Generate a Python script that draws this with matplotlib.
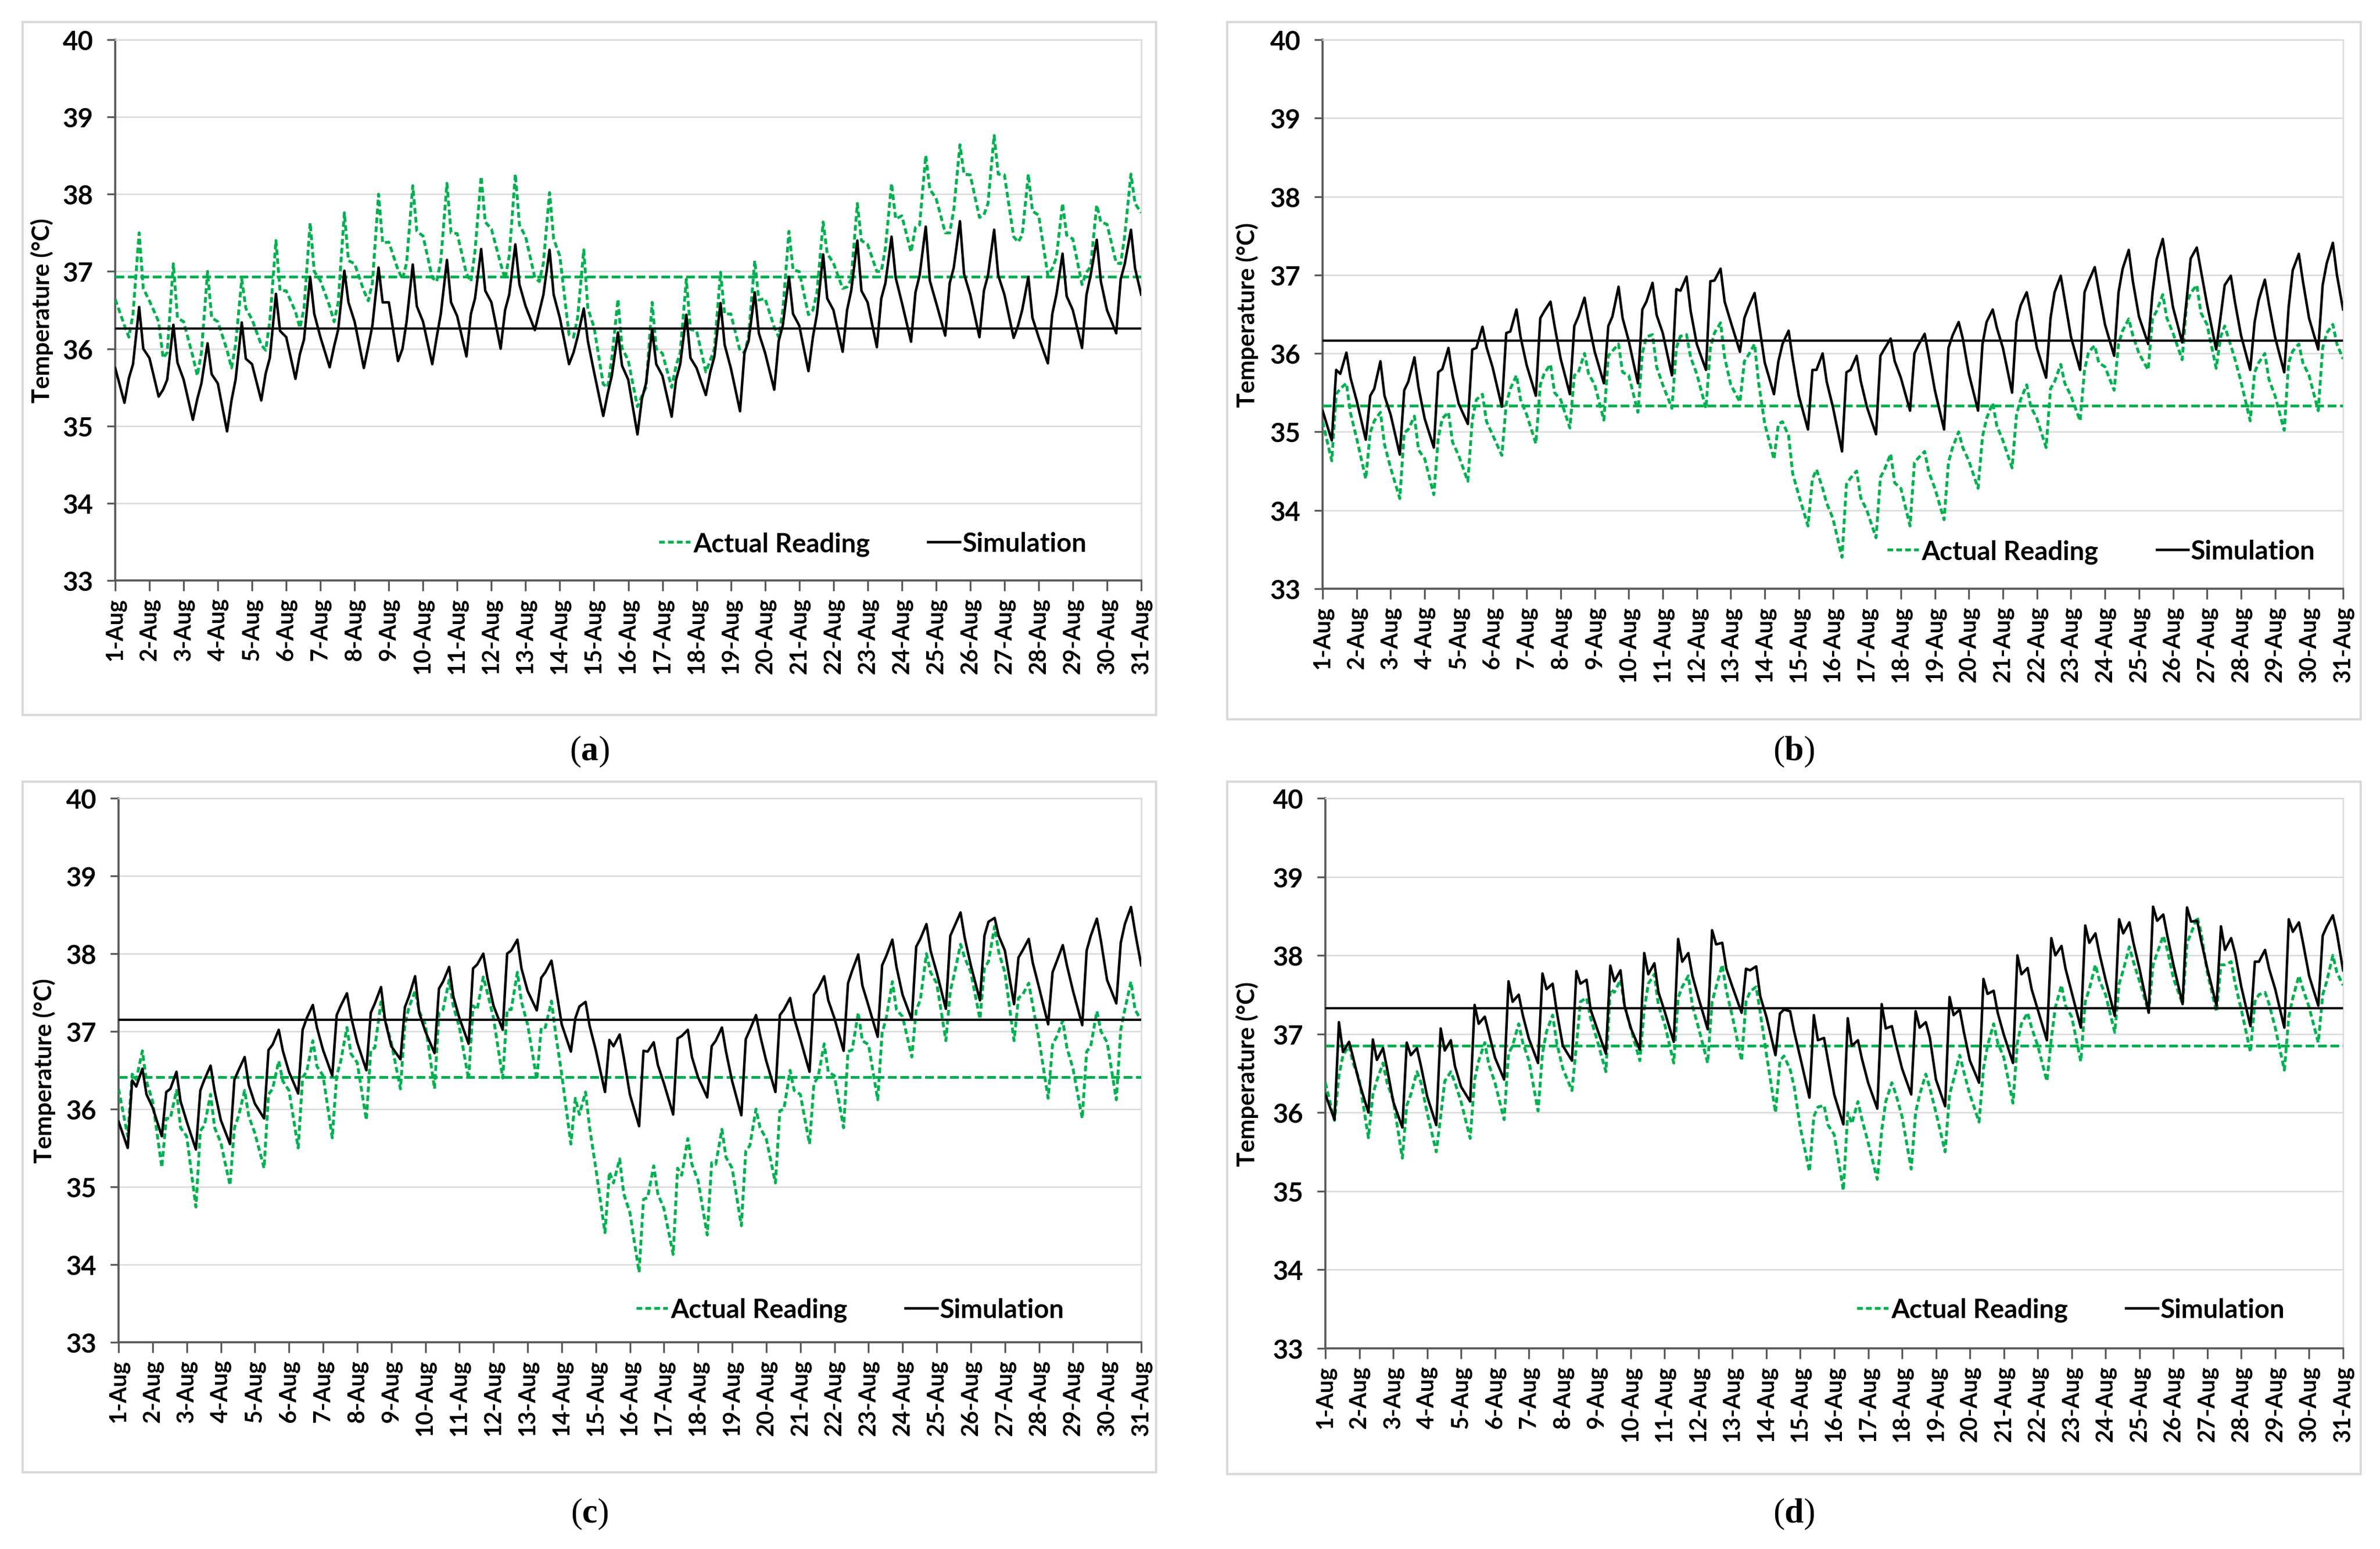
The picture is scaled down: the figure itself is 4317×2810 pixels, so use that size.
import matplotlib.pyplot as plt
from matplotlib.patches import Rectangle

plt.rcParams['font.family'] = ['Lato', 'DejaVu Sans']
plt.rcParams['mathtext.fontset'] = 'custom'
plt.rcParams['mathtext.rm'] = 'Liberation Serif'
plt.rcParams['mathtext.bf'] = 'Liberation Serif:bold'

# position of each reading inside a day (fraction of the day)
day_frac = [0.0, 0.27, 0.4, 0.52, 0.7, 0.82]
days = list(range(1, 32))
day_labels = [f"{d}-Aug" for d in days]

# ---- (a) ----
sim_a = [
    [35.75, 35.30, 35.62, 35.80, 36.54, 36.00], [35.88, 35.38, 35.47, 35.60, 36.31, 35.82],
    [35.60, 35.08, 35.35, 35.55, 36.07, 35.67], [35.55, 34.93, 35.33, 35.60, 36.34, 35.87],
    [35.80, 35.33, 35.68, 35.88, 36.71, 36.23], [36.15, 35.61, 35.93, 36.12, 36.93, 36.45],
    [36.15, 35.76, 36.03, 36.25, 37.01, 36.60], [36.35, 35.75, 36.03, 36.30, 37.05, 36.60],
    [36.60, 35.84, 36.00, 36.35, 37.09, 36.55], [36.35, 35.80, 36.15, 36.45, 37.15, 36.60],
    [36.42, 35.90, 36.45, 36.65, 37.29, 36.75], [36.60, 36.00, 36.50, 36.70, 37.35, 36.83],
    [36.55, 36.24, 36.48, 36.70, 37.28, 36.70], [36.40, 35.80, 35.95, 36.15, 36.52, 36.10],
    [35.70, 35.13, 35.42, 35.65, 36.21, 35.78], [35.60, 34.89, 35.35, 35.55, 36.25, 35.80],
    [35.65, 35.12, 35.60, 35.80, 36.44, 35.88], [35.75, 35.40, 35.70, 35.90, 36.59, 36.05],
    [35.75, 35.19, 35.95, 36.10, 36.73, 36.20], [35.95, 35.47, 36.10, 36.30, 36.93, 36.45],
    [36.30, 35.71, 36.15, 36.45, 37.22, 36.65], [36.50, 35.96, 36.50, 36.75, 37.40, 36.75],
    [36.60, 36.02, 36.65, 36.85, 37.45, 36.92], [36.60, 36.09, 36.73, 36.95, 37.58, 36.88],
    [36.60, 36.17, 36.85, 37.05, 37.65, 36.97], [36.70, 36.15, 36.75, 36.95, 37.54, 36.95],
    [36.70, 36.14, 36.30, 36.50, 36.93, 36.40], [36.15, 35.81, 36.45, 36.70, 37.23, 36.68],
    [36.50, 36.01, 36.70, 36.95, 37.41, 36.87], [36.50, 36.20, 36.90, 37.10, 37.54, 37.04],
]
sim_a_end = 36.70
act_a = [
    [36.64, 36.30, 36.15, 36.45, 37.50, 36.78], [36.62, 36.35, 35.88, 35.95, 37.10, 36.40],
    [36.35, 35.90, 35.65, 35.95, 37.00, 36.40], [36.35, 35.98, 35.75, 36.05, 36.90, 36.52],
    [36.38, 36.05, 35.98, 36.35, 37.40, 36.75], [36.75, 36.48, 36.27, 36.52, 37.63, 37.00],
    [36.88, 36.55, 36.35, 36.60, 37.76, 37.14], [37.10, 36.75, 36.62, 36.85, 38.00, 37.37],
    [37.38, 37.02, 36.90, 37.11, 38.11, 37.52], [37.46, 36.92, 36.87, 37.14, 38.14, 37.50],
    [37.49, 36.97, 36.87, 37.26, 38.23, 37.64], [37.55, 37.10, 36.90, 37.20, 38.26, 37.60],
    [37.45, 36.92, 36.87, 37.11, 38.02, 37.42], [37.20, 36.18, 36.15, 36.40, 37.28, 36.52],
    [36.28, 35.54, 35.50, 35.87, 36.64, 36.01], [35.85, 35.25, 35.39, 35.50, 36.60, 36.00],
    [35.94, 35.50, 35.78, 35.95, 36.90, 36.25], [36.23, 35.70, 35.85, 36.00, 36.99, 36.45],
    [36.45, 35.97, 35.95, 36.16, 37.14, 36.63], [36.65, 36.28, 36.15, 36.49, 37.52, 37.02],
    [37.00, 36.44, 36.50, 36.73, 37.64, 37.23], [37.11, 36.78, 36.80, 36.90, 37.88, 37.40],
    [37.35, 37.00, 37.00, 37.30, 38.14, 37.68], [37.72, 37.25, 37.57, 37.60, 38.50, 38.06],
    [37.95, 37.50, 37.50, 37.80, 38.64, 38.26], [38.25, 37.70, 37.73, 37.88, 38.76, 38.26],
    [38.25, 37.45, 37.38, 37.47, 38.26, 37.78], [37.73, 36.95, 37.04, 37.18, 37.88, 37.47],
    [37.42, 36.83, 36.99, 37.06, 37.86, 37.64], [37.61, 37.11, 37.10, 37.47, 38.26, 37.88],
]
act_a_end = 37.76
mean_sim_a, mean_act_a = 36.26, 36.93

# ---- (b) ----
sim_b = [
    [35.27, 34.89, 35.79, 35.74, 36.01, 35.69], [35.40, 34.90, 35.46, 35.55, 35.90, 35.46],
    [35.22, 34.71, 35.53, 35.64, 35.95, 35.57], [35.17, 34.80, 35.76, 35.80, 36.07, 35.72],
    [35.36, 35.10, 36.05, 36.07, 36.34, 36.08], [35.82, 35.32, 36.26, 36.28, 36.56, 36.21],
    [35.85, 35.46, 36.45, 36.54, 36.66, 36.35], [35.93, 35.48, 36.35, 36.47, 36.71, 36.40],
    [36.02, 35.62, 36.35, 36.47, 36.85, 36.45], [36.16, 35.62, 36.56, 36.66, 36.90, 36.49],
    [36.26, 35.72, 36.82, 36.80, 36.98, 36.54], [36.12, 35.79, 36.92, 36.93, 37.08, 36.66],
    [36.40, 36.02, 36.45, 36.59, 36.77, 36.40], [35.88, 35.48, 35.90, 36.12, 36.29, 35.93],
    [35.46, 35.03, 35.79, 35.79, 36.00, 35.64], [35.32, 34.75, 35.76, 35.79, 35.97, 35.65],
    [35.32, 34.97, 35.97, 36.06, 36.19, 35.90], [35.69, 35.27, 36.00, 36.11, 36.25, 35.97],
    [35.53, 35.03, 36.07, 36.23, 36.40, 36.19], [35.74, 35.27, 36.12, 36.40, 36.56, 36.33],
    [36.07, 35.50, 36.40, 36.61, 36.78, 36.52], [36.07, 35.69, 36.45, 36.78, 36.99, 36.68],
    [36.21, 35.79, 36.78, 36.92, 37.10, 36.80], [36.37, 35.97, 36.78, 37.08, 37.32, 36.92],
    [36.47, 36.12, 36.78, 37.20, 37.46, 37.10], [36.59, 36.14, 36.68, 37.21, 37.35, 37.06],
    [36.63, 36.05, 36.47, 36.87, 36.99, 36.66], [36.23, 35.79, 36.40, 36.68, 36.94, 36.63],
    [36.21, 35.76, 36.59, 37.06, 37.27, 36.92], [36.45, 36.05, 36.87, 37.15, 37.41, 37.00],
]
sim_b_end = 36.56
act_b = [
    [35.13, 34.63, 35.48, 35.55, 35.62, 35.24], [34.92, 34.40, 34.99, 35.14, 35.25, 34.84],
    [34.54, 34.15, 34.99, 35.03, 35.20, 34.77], [34.66, 34.20, 34.92, 35.17, 35.25, 34.87],
    [34.70, 34.37, 35.15, 35.41, 35.48, 35.13], [34.96, 34.70, 35.36, 35.55, 35.72, 35.41],
    [35.22, 34.85, 35.60, 35.75, 35.86, 35.50], [35.41, 35.05, 35.72, 35.76, 36.00, 35.74],
    [35.60, 35.15, 35.97, 36.03, 36.12, 35.76], [35.72, 35.25, 36.00, 36.21, 36.24, 35.83],
    [35.60, 35.30, 36.07, 36.22, 36.24, 35.95], [35.74, 35.30, 36.07, 36.26, 36.39, 35.95],
    [35.60, 35.38, 35.90, 35.98, 36.12, 35.62], [35.10, 34.65, 35.10, 35.13, 34.95, 34.47],
    [34.19, 33.80, 34.40, 34.52, 34.28, 34.09], [33.90, 33.40, 34.33, 34.41, 34.50, 34.16],
    [34.00, 33.65, 34.42, 34.52, 34.72, 34.35], [34.28, 33.80, 34.61, 34.67, 34.75, 34.49],
    [34.28, 33.88, 34.61, 34.80, 35.00, 34.80], [34.63, 34.28, 34.94, 35.17, 35.37, 35.08],
    [34.89, 34.54, 35.22, 35.41, 35.60, 35.32], [35.17, 34.80, 35.55, 35.64, 35.86, 35.62],
    [35.46, 35.14, 35.79, 36.02, 36.10, 35.88], [35.83, 35.53, 36.12, 36.29, 36.44, 36.23],
    [36.00, 35.79, 36.45, 36.54, 36.75, 36.45], [36.26, 35.92, 36.63, 36.77, 36.87, 36.52],
    [36.37, 35.81, 36.21, 36.35, 36.10, 35.93], [35.64, 35.14, 35.76, 35.88, 36.00, 35.67],
    [35.46, 35.02, 35.88, 36.03, 36.12, 35.88], [35.72, 35.27, 36.07, 36.26, 36.37, 36.12],
]
act_b_end = 35.93
mean_sim_b, mean_act_b = 36.16, 35.33

# ---- (c) ----
sim_c = [
    [35.84, 35.50, 36.37, 36.29, 36.52, 36.19], [36.02, 35.65, 36.22, 36.26, 36.48, 36.10],
    [35.84, 35.48, 36.24, 36.38, 36.56, 36.23], [35.86, 35.55, 36.38, 36.50, 36.67, 36.31],
    [36.07, 35.88, 36.76, 36.83, 37.02, 36.75], [36.48, 36.20, 37.02, 37.17, 37.34, 37.05],
    [36.76, 36.43, 37.21, 37.33, 37.49, 37.19], [36.86, 36.50, 37.24, 37.36, 37.57, 37.14],
    [36.81, 36.64, 37.31, 37.45, 37.71, 37.24], [37.00, 36.72, 37.55, 37.64, 37.83, 37.45],
    [37.17, 36.84, 37.81, 37.86, 38.00, 37.69], [37.33, 37.02, 38.00, 38.04, 38.18, 37.81],
    [37.52, 37.27, 37.69, 37.76, 37.91, 37.59], [37.09, 36.74, 37.17, 37.32, 37.38, 37.07],
    [36.76, 36.22, 36.89, 36.81, 36.96, 36.67], [36.19, 35.78, 36.75, 36.74, 36.86, 36.57],
    [36.33, 35.93, 36.91, 36.94, 37.02, 36.67], [36.41, 36.15, 36.81, 36.88, 37.05, 36.74],
    [36.36, 35.92, 36.90, 37.02, 37.21, 36.95], [36.62, 36.22, 37.21, 37.28, 37.43, 37.17],
    [36.90, 36.48, 37.47, 37.55, 37.71, 37.40], [37.17, 36.75, 37.62, 37.78, 37.99, 37.59],
    [37.33, 36.93, 37.85, 37.97, 38.18, 37.83], [37.47, 37.15, 38.09, 38.19, 38.38, 38.04],
    [37.76, 37.29, 38.23, 38.35, 38.53, 38.21], [37.85, 37.40, 38.23, 38.41, 38.46, 38.23],
    [38.04, 37.35, 37.95, 38.04, 38.19, 37.88], [37.57, 37.09, 37.76, 37.90, 38.11, 37.85],
    [37.52, 37.08, 38.04, 38.23, 38.45, 38.16], [37.66, 37.36, 38.14, 38.38, 38.60, 38.28],
]
sim_c_end = 37.85
act_c = [
    [36.26, 35.65, 36.45, 36.38, 36.75, 36.36], [36.10, 35.25, 35.88, 35.88, 36.24, 35.76],
    [35.65, 34.74, 35.72, 35.79, 36.19, 35.76], [35.57, 35.02, 35.76, 35.91, 36.24, 35.91],
    [35.69, 35.24, 36.19, 36.26, 36.62, 36.36], [36.24, 35.50, 36.41, 36.48, 36.88, 36.55],
    [36.43, 35.63, 36.43, 36.62, 37.05, 36.71], [36.60, 35.86, 36.76, 36.79, 37.38, 37.14],
    [36.86, 36.26, 37.09, 37.31, 37.52, 37.26], [37.09, 36.26, 37.24, 37.28, 37.66, 37.33],
    [37.05, 36.38, 37.33, 37.28, 37.70, 37.50], [37.17, 36.40, 37.28, 37.28, 37.76, 37.38],
    [37.09, 36.38, 37.05, 37.05, 37.39, 36.98], [36.45, 35.55, 36.14, 35.93, 36.22, 35.76],
    [35.24, 34.41, 35.19, 35.05, 35.36, 34.91], [34.67, 33.90, 34.84, 34.86, 35.27, 34.91],
    [34.72, 34.13, 35.24, 35.15, 35.62, 35.29], [35.08, 34.38, 35.31, 35.29, 35.74, 35.38],
    [35.24, 34.50, 35.46, 35.53, 36.00, 35.76], [35.62, 35.05, 35.98, 36.00, 36.50, 36.24],
    [36.19, 35.55, 36.33, 36.41, 36.84, 36.48], [36.43, 35.76, 36.74, 36.76, 37.24, 36.88],
    [36.83, 36.12, 36.98, 37.17, 37.64, 37.28], [37.19, 36.67, 37.28, 37.40, 38.00, 37.76],
    [37.62, 36.88, 37.52, 37.74, 38.12, 37.95], [37.76, 37.16, 37.81, 37.90, 38.35, 38.02],
    [37.76, 36.88, 37.43, 37.47, 37.62, 37.33], [36.90, 36.14, 36.83, 36.93, 37.14, 36.79],
    [36.52, 35.88, 36.74, 36.81, 37.26, 37.00], [36.86, 36.12, 37.02, 37.28, 37.64, 37.28],
]
act_c_end = 37.14
mean_sim_c, mean_act_c = 37.15, 36.41

# ---- (d) ----
sim_d = [
    [36.23, 35.91, 37.15, 36.77, 36.90, 36.70], [36.38, 36.00, 36.93, 36.67, 36.82, 36.56],
    [36.14, 35.81, 36.89, 36.73, 36.82, 36.59], [36.21, 35.84, 37.07, 36.79, 36.92, 36.59],
    [36.33, 36.14, 37.37, 37.13, 37.22, 37.01], [36.70, 36.42, 37.67, 37.41, 37.50, 37.24],
    [36.94, 36.63, 37.77, 37.57, 37.64, 37.29], [36.85, 36.66, 37.80, 37.64, 37.69, 37.31],
    [37.08, 36.75, 37.87, 37.67, 37.81, 37.36], [37.08, 36.80, 38.03, 37.76, 37.90, 37.53],
    [37.29, 36.90, 38.21, 37.92, 38.03, 37.74], [37.46, 37.06, 38.32, 38.14, 38.16, 37.83],
    [37.60, 37.27, 37.83, 37.81, 37.86, 37.48], [37.22, 36.73, 37.26, 37.31, 37.29, 37.03],
    [36.70, 36.19, 37.24, 36.92, 36.95, 36.66], [36.23, 35.85, 37.20, 36.85, 36.92, 36.68],
    [36.38, 36.05, 37.38, 37.07, 37.10, 36.87], [36.56, 36.23, 37.29, 37.08, 37.15, 36.95],
    [36.42, 36.08, 37.47, 37.24, 37.31, 37.03], [36.66, 36.38, 37.70, 37.51, 37.55, 37.27],
    [36.99, 36.63, 38.00, 37.76, 37.84, 37.57], [37.31, 36.92, 38.22, 38.00, 38.12, 37.83],
    [37.53, 37.08, 38.38, 38.16, 38.28, 38.02], [37.69, 37.23, 38.46, 38.28, 38.42, 38.16],
    [37.83, 37.27, 38.62, 38.44, 38.52, 38.25], [37.88, 37.38, 38.61, 38.43, 38.44, 38.18],
    [37.83, 37.36, 38.37, 38.07, 38.22, 38.02], [37.60, 37.10, 37.92, 37.92, 38.07, 37.83],
    [37.57, 37.08, 38.46, 38.30, 38.42, 38.16], [37.74, 37.36, 38.25, 38.37, 38.51, 38.28],
]
sim_d_end = 37.81
act_d = [
    [36.38, 35.90, 36.47, 36.73, 36.85, 36.63], [36.42, 35.68, 36.23, 36.41, 36.63, 36.38],
    [36.16, 35.42, 36.09, 36.23, 36.52, 36.38], [36.00, 35.50, 35.95, 36.40, 36.52, 36.38],
    [36.14, 35.67, 36.42, 36.66, 36.89, 36.61], [36.38, 35.91, 36.75, 36.85, 37.13, 36.89],
    [36.66, 36.02, 36.75, 37.03, 37.24, 36.89], [36.56, 36.28, 36.85, 37.41, 37.46, 37.20],
    [36.94, 36.52, 37.57, 37.53, 37.69, 37.36], [37.08, 36.66, 37.31, 37.64, 37.76, 37.36],
    [37.13, 36.63, 37.46, 37.60, 37.74, 37.36], [37.08, 36.63, 37.41, 37.60, 37.88, 37.55],
    [37.22, 36.66, 37.41, 37.54, 37.60, 37.27], [36.75, 36.00, 36.66, 36.72, 36.55, 36.33],
    [35.81, 35.25, 35.95, 36.07, 36.09, 35.84], [35.72, 35.01, 36.00, 35.86, 36.14, 35.91],
    [35.62, 35.15, 35.77, 36.14, 36.38, 36.23], [35.95, 35.28, 36.00, 36.23, 36.49, 36.31],
    [36.00, 35.50, 36.23, 36.42, 36.73, 36.52], [36.23, 35.88, 36.56, 36.85, 37.13, 36.89],
    [36.70, 36.12, 36.89, 37.13, 37.27, 37.08], [36.85, 36.40, 36.94, 37.34, 37.62, 37.36],
    [37.22, 36.65, 37.41, 37.57, 37.88, 37.68], [37.50, 37.02, 37.64, 37.81, 38.11, 37.92],
    [37.67, 37.28, 37.88, 38.03, 38.25, 38.07], [37.71, 37.38, 38.16, 38.28, 38.49, 38.28],
    [37.78, 37.28, 37.88, 37.88, 37.92, 37.64], [37.31, 36.77, 37.41, 37.50, 37.53, 37.38],
    [37.08, 36.54, 37.22, 37.46, 37.74, 37.57], [37.34, 36.89, 37.50, 37.67, 38.00, 37.78],
]
act_d_end = 37.62
mean_sim_d, mean_act_d = 37.33, 36.85

GREEN = '#00B050'
W, H = 4317, 2811

# layout in figure pixels: plot area (left, top, right, bottom), panel frame, label centre, legend anchor
panels = [
    (sim_a, sim_a_end, act_a, act_a_end, mean_sim_a, mean_act_a, 'a',
     (209, 73, 2070, 1054), (41, 41, 2097, 1298), (1069, 1364), (0.970, 0.068), 112),
    (sim_b, sim_b_end, act_b, act_b_end, mean_sim_b, mean_act_b, 'b',
     (2399, 73, 4250, 1069), (2226, 41, 4282, 1306), (3254, 1364), (0.996, 0.068), 116),
    (sim_c, sim_c_end, act_c, act_c_end, mean_sim_c, mean_act_c, 'c',
     (215, 1449, 2070, 2436), (41, 1419, 2097, 2672), (1069, 2747), (0.948, 0.060), 114),
    (sim_d, sim_d_end, act_d, act_d_end, mean_sim_d, mean_act_d, 'd',
     (2404, 1449, 4250, 2447), (2226, 1419, 4282, 2675), (3254, 2747), (0.966, 0.070), 121),
]

fig = plt.figure(figsize=(W / 300, H / 300), dpi=300)

x = [d + f for d in range(1, 31) for f in day_frac] + [31]

for sim, sim_end, act, act_end, m_sim, m_act, tag, box, frame, lab, leg_xy, ylab_off in panels:
    l, t, r, b = box
    ax = fig.add_axes([l / W, 1 - b / H, (r - l) / W, (b - t) / H])

    fl, ft, fr, fb = frame
    fig.patches.append(Rectangle((fl / W, 1 - fb / H), (fr - fl) / W, (fb - ft) / H,
                                 transform=fig.transFigure, fill=False,
                                 edgecolor='#d9d9d9', linewidth=1.0))

    y_act = [v for row in act for v in row] + [act_end]
    y_sim = [v for row in sim for v in row] + [sim_end]

    ax.plot(x, y_act, color=GREEN, lw=1.25, dashes=(2, 1.1), label='Actual Reading', zorder=3)
    ax.plot(x, y_sim, color='black', lw=1.1, label='Simulation', zorder=4)
    ax.plot([1, 31], [m_act, m_act], color=GREEN, lw=1.2, dashes=(3.2, 1.3), zorder=3)
    ax.plot([1, 31], [m_sim, m_sim], color='black', lw=1.0, zorder=4)

    ax.set_xlim(1, 31)
    ax.set_ylim(33, 40)
    ax.set_yticks(range(33, 41))
    ax.set_xticks(days)
    ax.set_xticklabels(day_labels, rotation=90, fontsize=10, fontweight='bold')
    for tl in ax.get_yticklabels():
        tl.set_fontweight('bold')
        tl.set_fontsize(11.5)

    ax.grid(axis='y', color='#d9d9d9', lw=0.6)
    ax.set_axisbelow(True)
    for s in ('top', 'right'):
        ax.spines[s].set_color('#d9d9d9')
        ax.spines[s].set_linewidth(0.6)
    for s in ('left', 'bottom'):
        ax.spines[s].set_color('#595959')
        ax.spines[s].set_linewidth(0.9)
    ax.tick_params(axis='y', direction='out', length=3.5, width=0.8, color='#595959', pad=6)
    ax.tick_params(axis='x', direction='out', length=4.5, width=0.8, color='#595959', pad=3)

    ax.set_ylabel('Temperature (°C)', fontsize=10.5, fontweight='bold')
    ax.yaxis.set_label_coords(-ylab_off / (r - l), 0.5)

    ax.legend(loc='center right', bbox_to_anchor=leg_xy, ncol=2, frameon=False,
              prop={'weight': 'bold', 'size': 11.5}, handlelength=1.2,
              handletextpad=0.1, columnspacing=2.2)

    fig.text(lab[0] / W, 1 - lab[1] / H, r'($\mathbf{' + tag + '}$)',
             family='Liberation Serif', fontsize=15, ha='center', va='center')

fig.savefig('out.png', dpi=300)
